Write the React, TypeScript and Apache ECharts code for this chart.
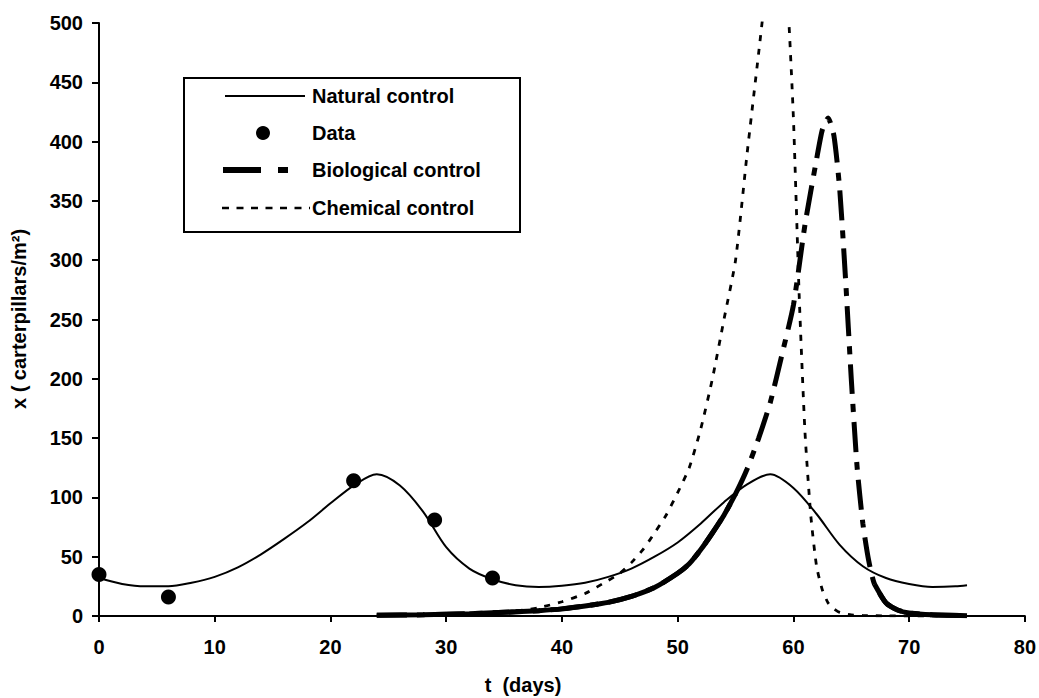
import { useEffect, useRef } from "react";
import * as echarts from "echarts";

// Natural control (t in days, x in carterpillars/m²)
const natT = [0, 2, 4, 6, 8, 10, 12, 14, 16, 18, 20, 22, 24, 26, 28, 30, 32, 34, 36, 38, 40, 42, 44, 46, 48, 50, 52, 54, 56, 58, 60, 62, 64, 66, 68, 70, 72, 74, 75];
const natV = [32, 27, 25, 25, 28, 33, 41, 52, 65, 79, 95, 110, 119.5, 110, 88, 58, 40, 31, 26, 24.5, 25.5, 28, 33, 40, 50, 62, 78, 96, 111, 119.5, 108, 86, 60, 42, 32, 27, 24.5, 25, 26];

// Observed data
const dataT = [0, 6, 22, 29, 34];
const dataV = [35, 16, 114, 81, 32];

// Chemical control
const chemT = [24, 26, 28, 30, 32, 34, 36, 38, 40, 42, 44, 45, 46, 47, 48, 49, 50, 51, 52, 53, 54, 55, 56, 57, 58, 58.5, 59, 59.5, 60, 60.5, 61, 61.5, 62, 62.5, 63, 63.5, 64, 65, 66, 68, 70, 72, 75];
const chemV = [0.3, 0.5, 0.8, 1.2, 1.8, 2.8, 4.2, 7, 12, 19, 30, 36, 45, 56, 70, 85, 104, 125, 158, 200, 250, 300, 390, 475, 560, 590, 575, 520, 420, 270, 155, 85, 42, 22, 11, 6, 3, 1, 0.4, 0.1, 0, 0, 0];

// Biological control
const bioT = [24, 28, 32, 36, 38, 40, 42, 44, 46, 48, 50, 51, 52, 53, 54, 55, 56, 57, 58, 59, 60, 61, 62, 62.5, 63, 63.5, 64, 64.5, 65, 65.5, 66, 66.5, 67, 68, 69, 70, 72, 75];
const bioV = [0.6, 1, 2, 3.5, 4.5, 6, 8.5, 11.5, 16.5, 24, 36, 44, 56, 70, 85, 103, 124, 150, 180, 220, 262, 330, 385, 410, 420, 405, 360, 285, 200, 126, 78, 47, 27, 11, 5, 2.5, 1, 0.3];

const xTicks = { min: 0, max: 80, interval: 10 };
const yTicks = { min: 0, max: 500, interval: 50 };

const legendNames = ["Natural control", "Data", "Biological control", "Chemical control"];

const FONT = "'Liberation Sans', Arial, Helvetica, sans-serif";

export default function App() {
  const ref = useRef<HTMLDivElement>(null);

  useEffect(() => {
    if (!ref.current) return;
    const chart = echarts.init(ref.current, undefined, { renderer: "svg" });

    const zip = (t: number[], v: number[]) => t.map((x, i) => [x, v[i]]);
    const bioSolid = bioT.map((x, i) => [x, x <= 55 || x >= 67 ? bioV[i] : null]);

    const axisCommon = {
      axisLine: { show: true, lineStyle: { color: "#000", width: 2 } },
      axisTick: { show: true, inside: false, lineStyle: { color: "#000", width: 2 } },
      splitLine: { show: false },
    };

    const rowY = [96, 133, 170, 208];
    const textX = 312;

    chart.setOption({
      animation: false,
      backgroundColor: "#fff",
      grid: { left: 99, right: 13, top: 23, bottom: 82, containLabel: false },
      xAxis: {
        type: "value",
        ...xTicks,
        ...axisCommon,
        axisTick: { ...axisCommon.axisTick, length: 6 },
        axisLabel: { color: "#000", fontSize: 20, fontWeight: "bold", fontFamily: FONT, margin: 21 },
      },
      yAxis: {
        type: "value",
        ...yTicks,
        ...axisCommon,
        axisTick: { ...axisCommon.axisTick, length: 7 },
        axisLabel: { color: "#000", fontSize: 20, fontWeight: "bold", fontFamily: FONT, margin: 16 },
      },
      series: [
        {
          name: legendNames[0],
          type: "line",
          data: zip(natT, natV),
          smooth: 0.3,
          showSymbol: false,
          lineStyle: { color: "#000", width: 2 },
          z: 3,
        },
        {
          name: legendNames[3],
          type: "line",
          data: zip(chemT, chemV),
          smooth: 0.2,
          showSymbol: false,
          lineStyle: { color: "#000", width: 2.8, type: [6, 8] },
          z: 2,
        },
        {
          name: legendNames[2],
          type: "line",
          data: zip(bioT, bioV),
          smooth: 0.2,
          showSymbol: false,
          lineStyle: { color: "#000", width: 5, type: [30, 10, 8, 10] },
          z: 2,
        },
        {
          name: legendNames[2] + " (low)",
          type: "line",
          data: bioSolid,
          smooth: 0.2,
          connectNulls: false,
          showSymbol: false,
          lineStyle: { color: "#000", width: 5 },
          z: 2,
        },
        {
          name: legendNames[1],
          type: "scatter",
          data: zip(dataT, dataV),
          symbol: "circle",
          symbolSize: 15,
          itemStyle: { color: "#000", opacity: 1 },
          z: 4,
        },
      ],
      graphic: [
        {
          type: "rect",
          shape: { x: 184, y: 78, width: 336, height: 154 },
          style: { fill: "#fff", stroke: "#000", lineWidth: 2 },
          z: 10,
        },
        {
          type: "line",
          shape: { x1: 225, y1: rowY[0], x2: 305, y2: rowY[0] },
          style: { stroke: "#000", lineWidth: 2 },
          z: 11,
        },
        {
          type: "circle",
          shape: { cx: 263, cy: rowY[1], r: 7 },
          style: { fill: "#000" },
          z: 11,
        },
        {
          type: "line",
          shape: { x1: 223, y1: rowY[2], x2: 261, y2: rowY[2] },
          style: { stroke: "#000", lineWidth: 6 },
          z: 11,
        },
        {
          type: "line",
          shape: { x1: 278, y1: rowY[2], x2: 288, y2: rowY[2] },
          style: { stroke: "#000", lineWidth: 6 },
          z: 11,
        },
        {
          type: "line",
          shape: { x1: 222, y1: rowY[3], x2: 310, y2: rowY[3] },
          style: { stroke: "#000", lineWidth: 2.5, lineDash: [7, 7.5] },
          z: 11,
        },
        ...legendNames.map((n, i) => ({
          type: "text",
          x: textX,
          y: rowY[i],
          style: {
            text: n,
            fill: "#000",
            font: `bold 20px ${FONT}`,
            align: "left",
            verticalAlign: "middle",
          },
          z: 11,
        })),
        {
          type: "text",
          x: 523,
          y: 685,
          style: {
            text: "t  (days)",
            fill: "#000",
            font: `bold 20px ${FONT}`,
            align: "center",
            verticalAlign: "middle",
          },
        },
        {
          type: "text",
          x: 19,
          y: 319,
          rotation: Math.PI / 2,
          style: {
            text: "x ( carterpillars/m²)",
            fill: "#000",
            font: `bold 20px ${FONT}`,
            align: "center",
            verticalAlign: "middle",
          },
        },
      ],
    });

    return () => chart.dispose();
  }, []);

  return (
    <div
      ref={ref}
      style={{ position: "fixed", left: 0, top: 0, width: 1039, height: 698, background: "#fff" }}
    />
  );
}
